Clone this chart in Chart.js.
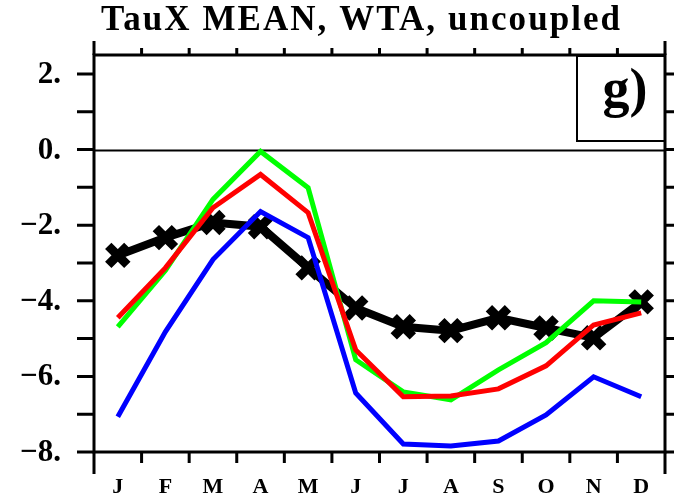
<!DOCTYPE html>
<html>
<head>
<meta charset="utf-8">
<script src="https://cdn.jsdelivr.net/npm/chart.js@4.4.0/dist/chart.umd.min.js"></script>
<style>
  html, body { margin: 0; padding: 0; background: #fff; }
  #wrap { width: 674px; height: 498px; }
</style>
</head>
<body>
<div id="wrap"><canvas id="taux" width="674" height="498"></canvas></div>
<script>
// monthly climatology, WTA box
const months = ['J', 'F', 'M', 'A', 'M', 'J', 'J', 'A', 'S', 'O', 'N', 'D'];
const yLabels = [2, 0, -2, -4, -6, -8];
const obsMean = [-2.80, -2.33, -1.93, -2.04, -3.13, -4.19, -4.69, -4.79, -4.45, -4.72, -4.98, -4.03];
const runGreen = [-4.69, -3.20, -1.32, -0.05, -1.01, -5.56, -6.41, -6.62, -5.83, -5.11, -4.00, -4.03];
const runRed = [-4.45, -3.13, -1.54, -0.66, -1.67, -5.30, -6.54, -6.52, -6.33, -5.72, -4.64, -4.32];
const runBlue = [-7.07, -4.82, -2.91, -1.64, -2.33, -6.44, -7.79, -7.84, -7.71, -7.02, -6.01, -6.54];

const pts = (arr) => arr.map((v, i) => ({ x: i + 1, y: v }));

const frame = {
  id: 'frame',
  beforeDatasetsDraw(chart) {
    const { ctx, chartArea: a, scales: { y } } = chart;
    const p0 = Math.round(y.getPixelForValue(0)) + 0.5;
    ctx.save();
    ctx.strokeStyle = '#000';
    ctx.lineWidth = 2;
    ctx.beginPath();
    ctx.moveTo(a.left, p0);
    ctx.lineTo(a.right, p0);
    ctx.stroke();
    ctx.restore();
  },
  afterDraw(chart) {
    const { ctx, chartArea: a, scales: { x, y } } = chart;
    ctx.save();
    ctx.strokeStyle = '#000';
    ctx.fillStyle = '#000';
    ctx.lineWidth = 3;
    ctx.strokeRect(a.left, a.top, a.right - a.left, a.bottom - a.top);

    // y tick marks, outward on both sides
    ctx.beginPath();
    for (let v = -8; v <= 2; v++) {
      const py = y.getPixelForValue(v);
      ctx.moveTo(a.left - 17, py);
      ctx.lineTo(a.left, py);
      ctx.moveTo(a.right, py);
      ctx.lineTo(a.right + 12, py);
    }
    // x tick marks on month boundaries
    for (let k = 0; k <= 12; k++) {
      const px = x.getPixelForValue(k + 0.5);
      const end = (k === 0 || k === 12);
      ctx.moveTo(px, a.top - (end ? 14 : 7));
      ctx.lineTo(px, a.top);
      ctx.moveTo(px, a.bottom);
      ctx.lineTo(px, a.bottom + (end ? 22 : 11));
    }
    ctx.stroke();

    // y labels
    ctx.font = 'bold 31px "Liberation Serif"';
    ctx.textAlign = 'right';
    ctx.textBaseline = 'middle';
    yLabels.forEach(v => {
      const txt = (v < 0 ? '\u2212' + (-v) : String(v)) + '.';
      ctx.fillText(txt, 61, y.getPixelForValue(v) + 1);
    });

    // month letters
    ctx.font = 'bold 22px "Liberation Serif"';
    ctx.textAlign = 'center';
    months.forEach((m, i) => {
      ctx.fillText(m, x.getPixelForValue(i + 1), 487);
    });

    // title
    ctx.font = 'bold 35px "Liberation Serif"';
    ctx.textAlign = 'left';
    ctx.textBaseline = 'alphabetic';
    const title = 'TauX MEAN, WTA, uncoupled';
    const w = ctx.measureText(title).width;
    ctx.letterSpacing = ((519 - w) / (title.length - 1)) + 'px';
    ctx.fillText(title, 101, 30);
    ctx.letterSpacing = '0px';

    // panel tag
    ctx.lineWidth = 2;
    ctx.strokeRect(577, a.top + 1, a.right - 577, 85);
    ctx.font = 'bold 54px "Liberation Serif"';
    ctx.textAlign = 'center';
    ctx.fillText('g)', 625, 106);
    ctx.restore();
  }
};

new Chart(document.getElementById('taux'), {
  type: 'line',
  data: {
    datasets: [
      { data: pts(obsMean), borderColor: '#000', borderWidth: 8, pointStyle: 'crossRot',
        pointRadius: 13.5, pointBorderWidth: 9, pointBorderColor: '#000', order: 4 },
      { data: pts(runGreen), borderColor: '#00ff00', borderWidth: 5, pointRadius: 0, order: 3 },
      { data: pts(runRed), borderColor: '#ff0000', borderWidth: 5, pointRadius: 0, order: 2 },
      { data: pts(runBlue), borderColor: '#0000ff', borderWidth: 5, pointRadius: 0, order: 1 }
    ]
  },
  options: {
    responsive: false,
    animation: false,
    layout: { autoPadding: false, padding: { left: 94, right: 9, top: 55, bottom: 46 } },
    scales: {
      x: { type: 'linear', min: 0.5, max: 12.5, display: false },
      y: { min: -8, max: 2.5, display: false }
    },
    plugins: { legend: { display: false }, tooltip: { enabled: false } }
  },
  plugins: [frame]
});
</script>
</body>
</html>
